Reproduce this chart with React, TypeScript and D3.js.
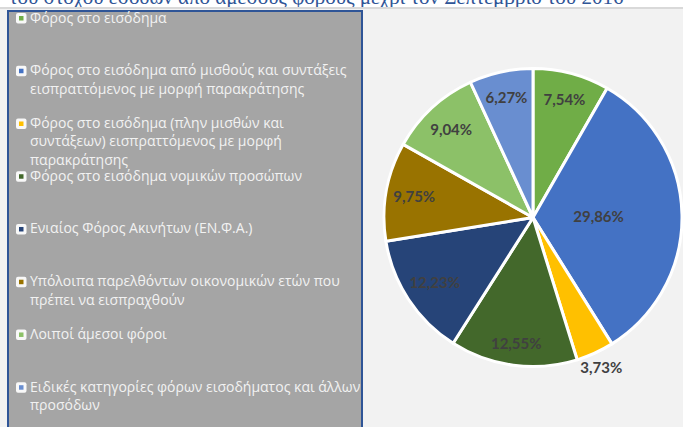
import React from 'react';
import * as d3 from 'd3';

const title = 'του στόχου εσόδων από άμεσους φόρους μέχρι τον Σεπτέμβριο του 2016';

const categories = [
  'Φόρος στο εισόδημα',
  'Φόρος στο εισόδημα από μισθούς και συντάξεις\nεισπραττόμενος με μορφή παρακράτησης',
  'Φόρος στο εισόδημα (πλην μισθών και\nσυντάξεων) εισπραττόμενος με μορφή\nπαρακράτησης',
  'Φόρος στο εισόδημα νομικών προσώπων',
  'Ενιαίος Φόρος Ακινήτων (ΕΝ.Φ.Α.)',
  'Υπόλοιπα παρελθόντων οικονομικών ετών που\nπρέπει να εισπραχθούν',
  'Λοιποί άμεσοι φόροι',
  'Ειδικές κατηγορίες φόρων εισοδήματος και άλλων\nπροσόδων',
];

const values = [7.54, 29.86, 3.73, 12.55, 12.23, 9.75, 9.04, 6.27];
const valueLabels = ['7,54%', '29,86%', '3,73%', '12,55%', '12,23%', '9,75%', '9,04%', '6,27%'];

const colors = ['#70AD47', '#4472C4', '#FFC000', '#43682B', '#264478', '#997300', '#8CC168', '#698ED0'];
// label distance from centre, as a fraction of the radius (Excel "best fit")
const labelRadius = [0.82, 0.44, 1.1, 0.85, 0.79, 0.81, 0.81, 0.83];

export default function App() {
  const W = 683;
  const H = 427;
  const cx = 533;
  const cy = 217.5;
  const r = 149;

  const pie = d3.pie<number>().sort(null).value((d) => d)(values);
  const arc = d3.arc<d3.PieArcDatum<number>>().innerRadius(0).outerRadius(r);

  const legendY = d3.scalePoint<string>().domain(categories).range([22.5, 391.7]);
  const lineH = 18.4;

  return (
    <svg
      width={W}
      height={H}
      style={{ position: 'fixed', left: 0, top: 0, display: 'block' }}
    >
      <rect x={0} y={0} width={W} height={H} fill="#F2F2F2" />
      <rect x={0} y={0} width={W} height={7} fill="#FFFFFF" />
      <text
        x={9}
        y={4}
        fontFamily="'Liberation Serif', serif"
        fontSize={21}
        fill="#2F5597"
      >
        {title}
      </text>
      <rect x={0} y={7} width={W} height={2} fill="#D9D9D9" />

      {/* legend box */}
      <rect x={8} y={11} width={354} height={440} fill="#A5A5A5" stroke="#2F5597" strokeWidth={2} />
      {categories.map((c, i) => {
        const y = legendY(c) as number;
        const lines = c.split('\n');
        return (
          <g key={i}>
            <rect x={16} y={y - 9.5} width={10.5} height={10.5} rx={2} fill="#F8F8F8" />
            <rect x={19} y={y - 6.5} width={4.5} height={4.5} fill={colors[i]} />
            <text
              x={30}
              y={y}
              fontFamily="'Open Sans', sans-serif"
              fontSize={14}
              fill="#F2F2F2"
            >
              {lines.map((l, k) => (
                <tspan key={k} x={30} y={y + k * lineH}>
                  {l}
                </tspan>
              ))}
            </text>
          </g>
        );
      })}

      {/* pie */}
      <g transform={`translate(${cx},${cy})`}>
        {pie.map((d, i) => (
          <path key={i} d={arc(d) as string} fill={colors[i]} stroke="#FFFFFF" strokeWidth={3} strokeLinejoin="round" />
        ))}
        {pie.map((d, i) => {
          const lr = r * labelRadius[i];
          const la = d3.arc<d3.PieArcDatum<number>>().innerRadius(lr).outerRadius(lr);
          const [x, y] = la.centroid(d);
          return (
            <text
              key={i}
              x={x}
              y={y}
              textAnchor="middle"
              dominantBaseline="central"
              fontFamily="Lato, 'Open Sans', sans-serif"
              fontWeight="bold"
              fontSize={15}
              fill="#404040"
            >
              {valueLabels[i]}
            </text>
          );
        })}
      </g>
    </svg>
  );
}
